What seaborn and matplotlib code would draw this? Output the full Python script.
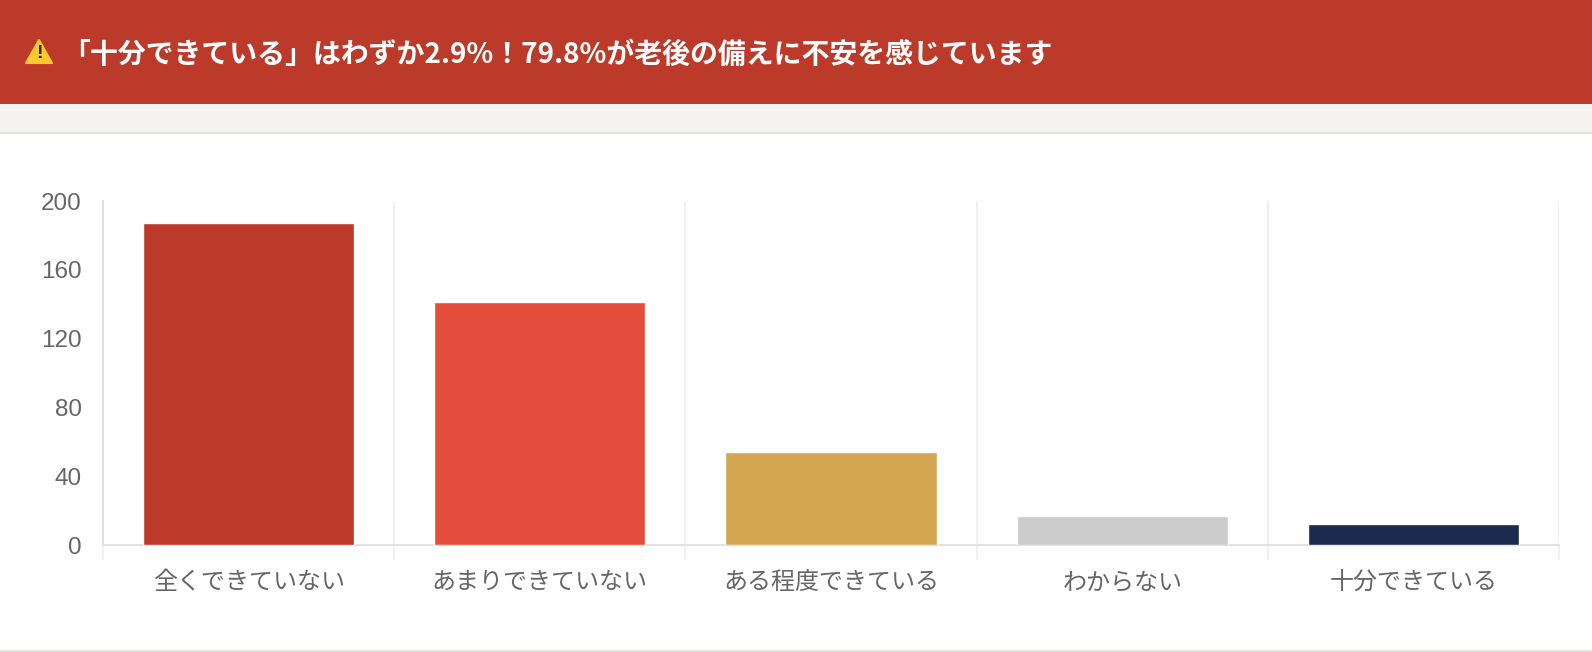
import matplotlib
matplotlib.use("Agg")
import matplotlib.pyplot as plt
from matplotlib.patches import Rectangle, Polygon
import pandas as pd
import seaborn as sns

# --- Data ---
categories = ["全くできていない", "あまりできていない", "ある程度できている", "わからない", "十分できている"]
counts = [187, 141, 54, 17, 12]
bar_colors = ["#BC3A2A", "#E44D3B", "#D4A853", "#CCCCCC", "#1B2A4E"]
y_ticks = [0, 40, 80, 120, 160, 200]
title = "「十分できている」はわずか2.9%！79.8%が老後の備えに不安を感じています"

W, H = 1592, 652

sns.set_style("white")
plt.rcParams["font.family"] = ["Noto Sans CJK JP", "DejaVu Sans"]

fig = plt.figure(figsize=(W / 100, H / 100), dpi=100, facecolor="white")


def px_box(x0, y0, x1, y1):
    # pixel box, y measured from the top of the image
    return [x0 / W, 1 - y1 / H, (x1 - x0) / W, (y1 - y0) / H]


def band(y0, y1, color):
    fig.add_artist(Rectangle((0, 1 - y1 / H), 1, (y1 - y0) / H, transform=fig.transFigure,
                             facecolor=color, edgecolor="none"))


# --- Page header ---
band(0, 104, "#BC3A2A")
band(104, 132, "#F4F3EF")
band(132, 134, "#E4E3DC")
band(650, 652, "#E4E3DC")

fig.add_artist(Polygon([(26 / W, 1 - 63 / H), (52 / W, 1 - 63 / H), (39 / W, 1 - 40 / H)],
                       closed=True, transform=fig.transFigure, facecolor="#FFC92E",
                       edgecolor="#FFC92E", linewidth=1.5, joinstyle="round"))
fig.text(39 / W, 1 - 54 / H, "!", color="#2E2A20", fontsize=14, fontweight="bold",
         ha="center", va="center", family=["Liberation Sans"])
fig.text(62 / W, 1 - 55 / H, title, color="white", fontsize=20.1, fontweight="bold",
         ha="left", va="center")

# --- Chart ---
df = pd.DataFrame({"category": categories, "count": counts})
ax = fig.add_axes(px_box(103, 201, 1559, 545))
sns.barplot(data=df, x="category", y="count", hue="category", order=categories,
            hue_order=categories, palette=bar_colors, width=0.725, saturation=1,
            legend=False, ax=ax, zorder=3)

ax.set_xlim(-0.5, len(categories) - 0.5)
ax.set_ylim(0, 200)
ax.set_xlabel("")
ax.set_ylabel("")
ax.set_yticks(y_ticks)
ax.set_xticks(range(len(categories)))
ax.set_xticklabels(categories)

# category separators, running past the baseline like ticks
ax.set_xticks([i - 0.5 for i in range(len(categories) + 1)], minor=True)
ax.grid(False)
ax.grid(True, which="minor", axis="x", color="#EDEDED", linewidth=1.2, zorder=0)
ax.tick_params(axis="x", which="minor", length=10.5, width=1.2, color="#EDEDED", bottom=True)
ax.tick_params(axis="x", which="major", length=0, pad=17.3, labelsize=17.3, labelcolor="#666666")
ax.tick_params(axis="y", length=0, pad=15.3, labelsize=17.5, labelcolor="#666666")
for label in ax.get_yticklabels():
    label.set_family(["Liberation Sans"])

sns.despine(ax=ax, top=True, right=True)
ax.spines["left"].set_color("#DDDDDD")
ax.spines["left"].set_linewidth(1.5)
ax.spines["bottom"].set_color("#E2E2E2")
ax.spines["bottom"].set_linewidth(1.5)

fig.savefig("out.png", dpi=100)
